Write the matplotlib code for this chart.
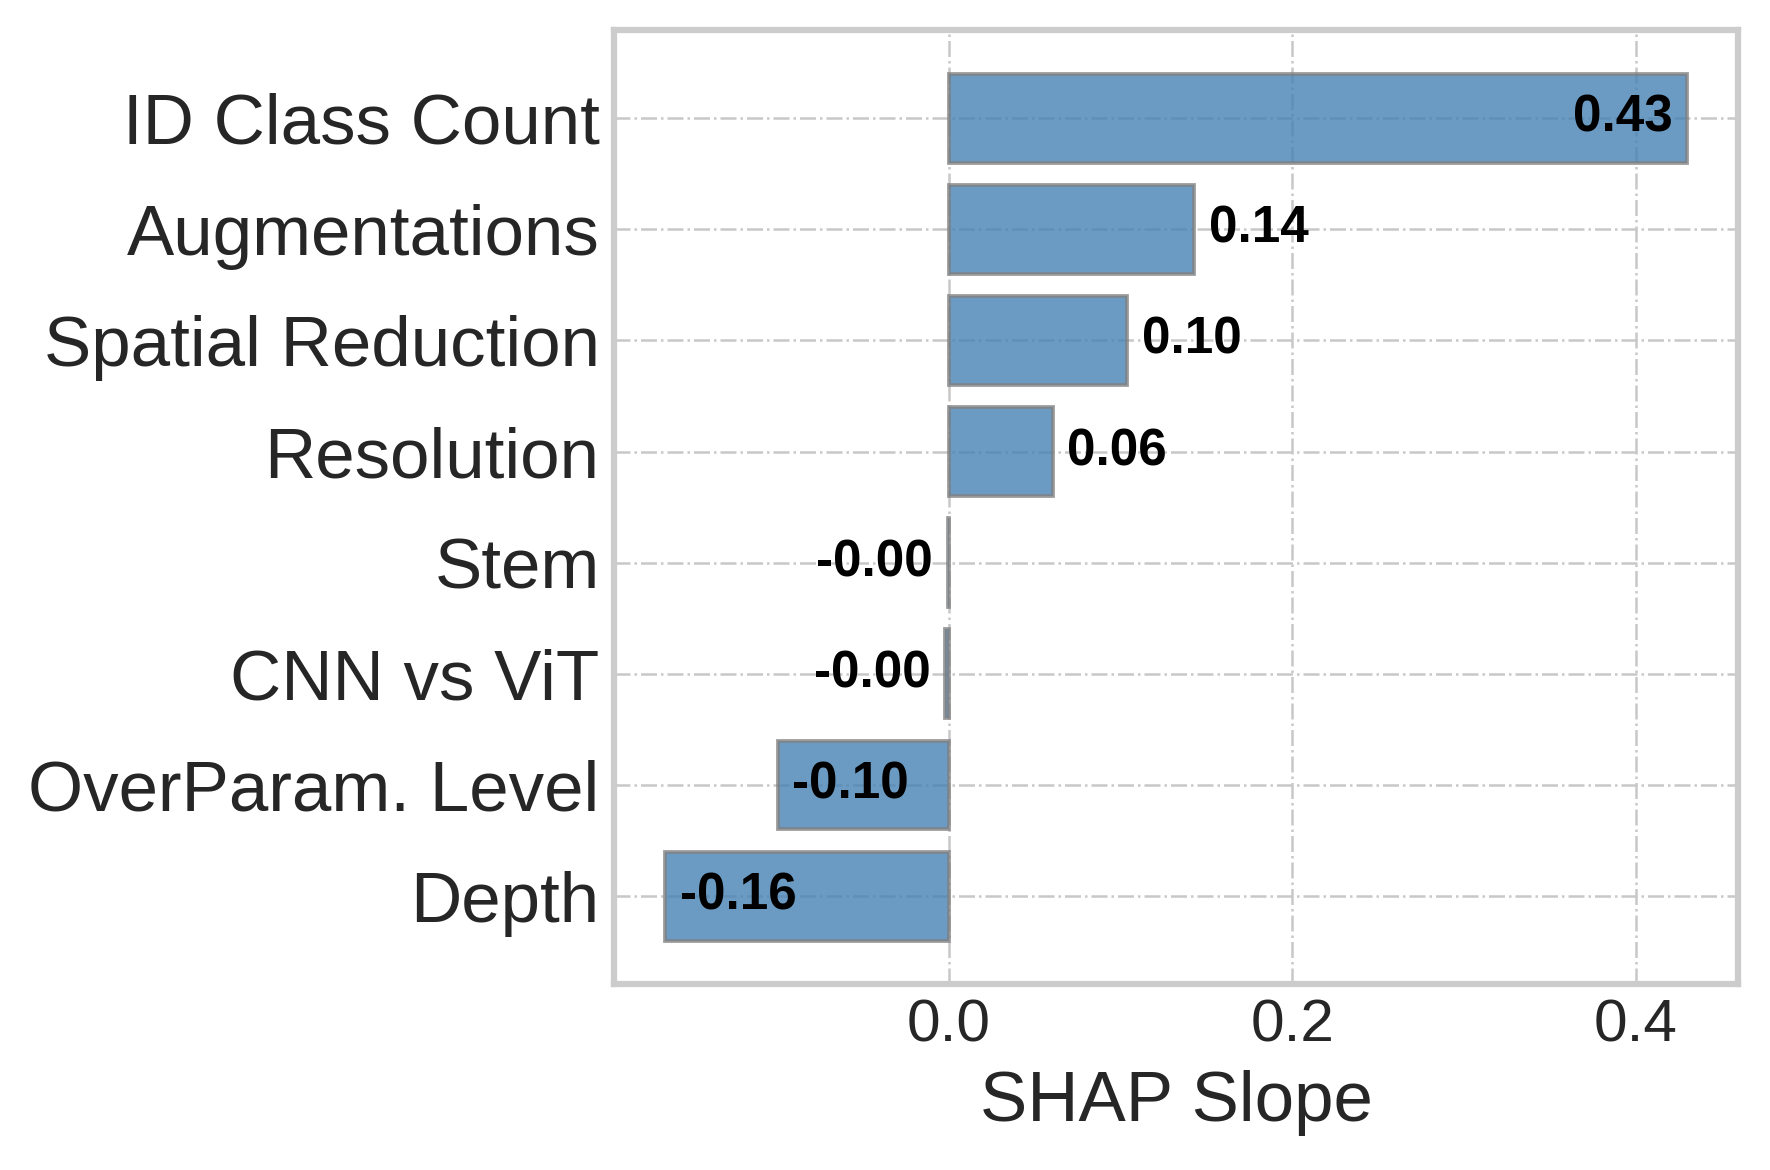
import matplotlib
matplotlib.use("Agg")
import matplotlib.pyplot as plt
import numpy as np

features = ["ID Class Count", "Augmentations", "Spatial Reduction", "Resolution",
            "Stem", "CNN vs ViT", "OverParam. Level", "Depth"]
slopes = [0.430, 0.143, 0.104, 0.0605, -0.0006, -0.002, -0.0995, -0.165]
value_labels = ["0.43", "0.14", "0.10", "0.06", "-0.00", "-0.00", "-0.10", "-0.16"]

plt.style.use("seaborn-v0_8-whitegrid")
plt.rcParams["font.family"] = ["Liberation Sans", "DejaVu Sans"]

fig, ax = plt.subplots(figsize=(5.9, 3.9), dpi=300)
y = np.arange(len(features))
ax.barh(y, slopes, height=0.8, color="steelblue", alpha=0.8,
        edgecolor="gray", linewidth=0.9)
ax.set_yticks(y)
ax.set_yticklabels(features, fontsize=17, color="#262626")
ax.invert_yaxis()
ax.set_xticks([0.0, 0.2, 0.4])
ax.tick_params(axis="x", labelsize=14.5, labelcolor="#262626")
ax.set_xlabel("SHAP Slope", fontsize=17, color="#262626")
ax.grid(True, linestyle="-.", color="#c8c8c8", linewidth=0.6)

for spine in ax.spines.values():
    spine.set_color("#cccccc")
    spine.set_linewidth(1.5)

for yi, v, lab in zip(y, slopes, value_labels):
    if v > 0.3 or v < -0.05:
        # wide bars: label sits inside the bar end
        off, ha = (-3.5, "right") if v > 0 else (3.5, "left")
    else:
        off, ha = (3.5, "left") if v >= 0 else (-3.5, "right")
    ax.annotate(lab, (v, yi), xytext=(off, 0), textcoords="offset points",
                ha=ha, va="center", fontsize=12.3, fontweight="bold", color="black")

plt.subplots_adjust(left=0.347, right=0.982, top=0.974, bottom=0.159)
plt.savefig("out.png", dpi=300)
